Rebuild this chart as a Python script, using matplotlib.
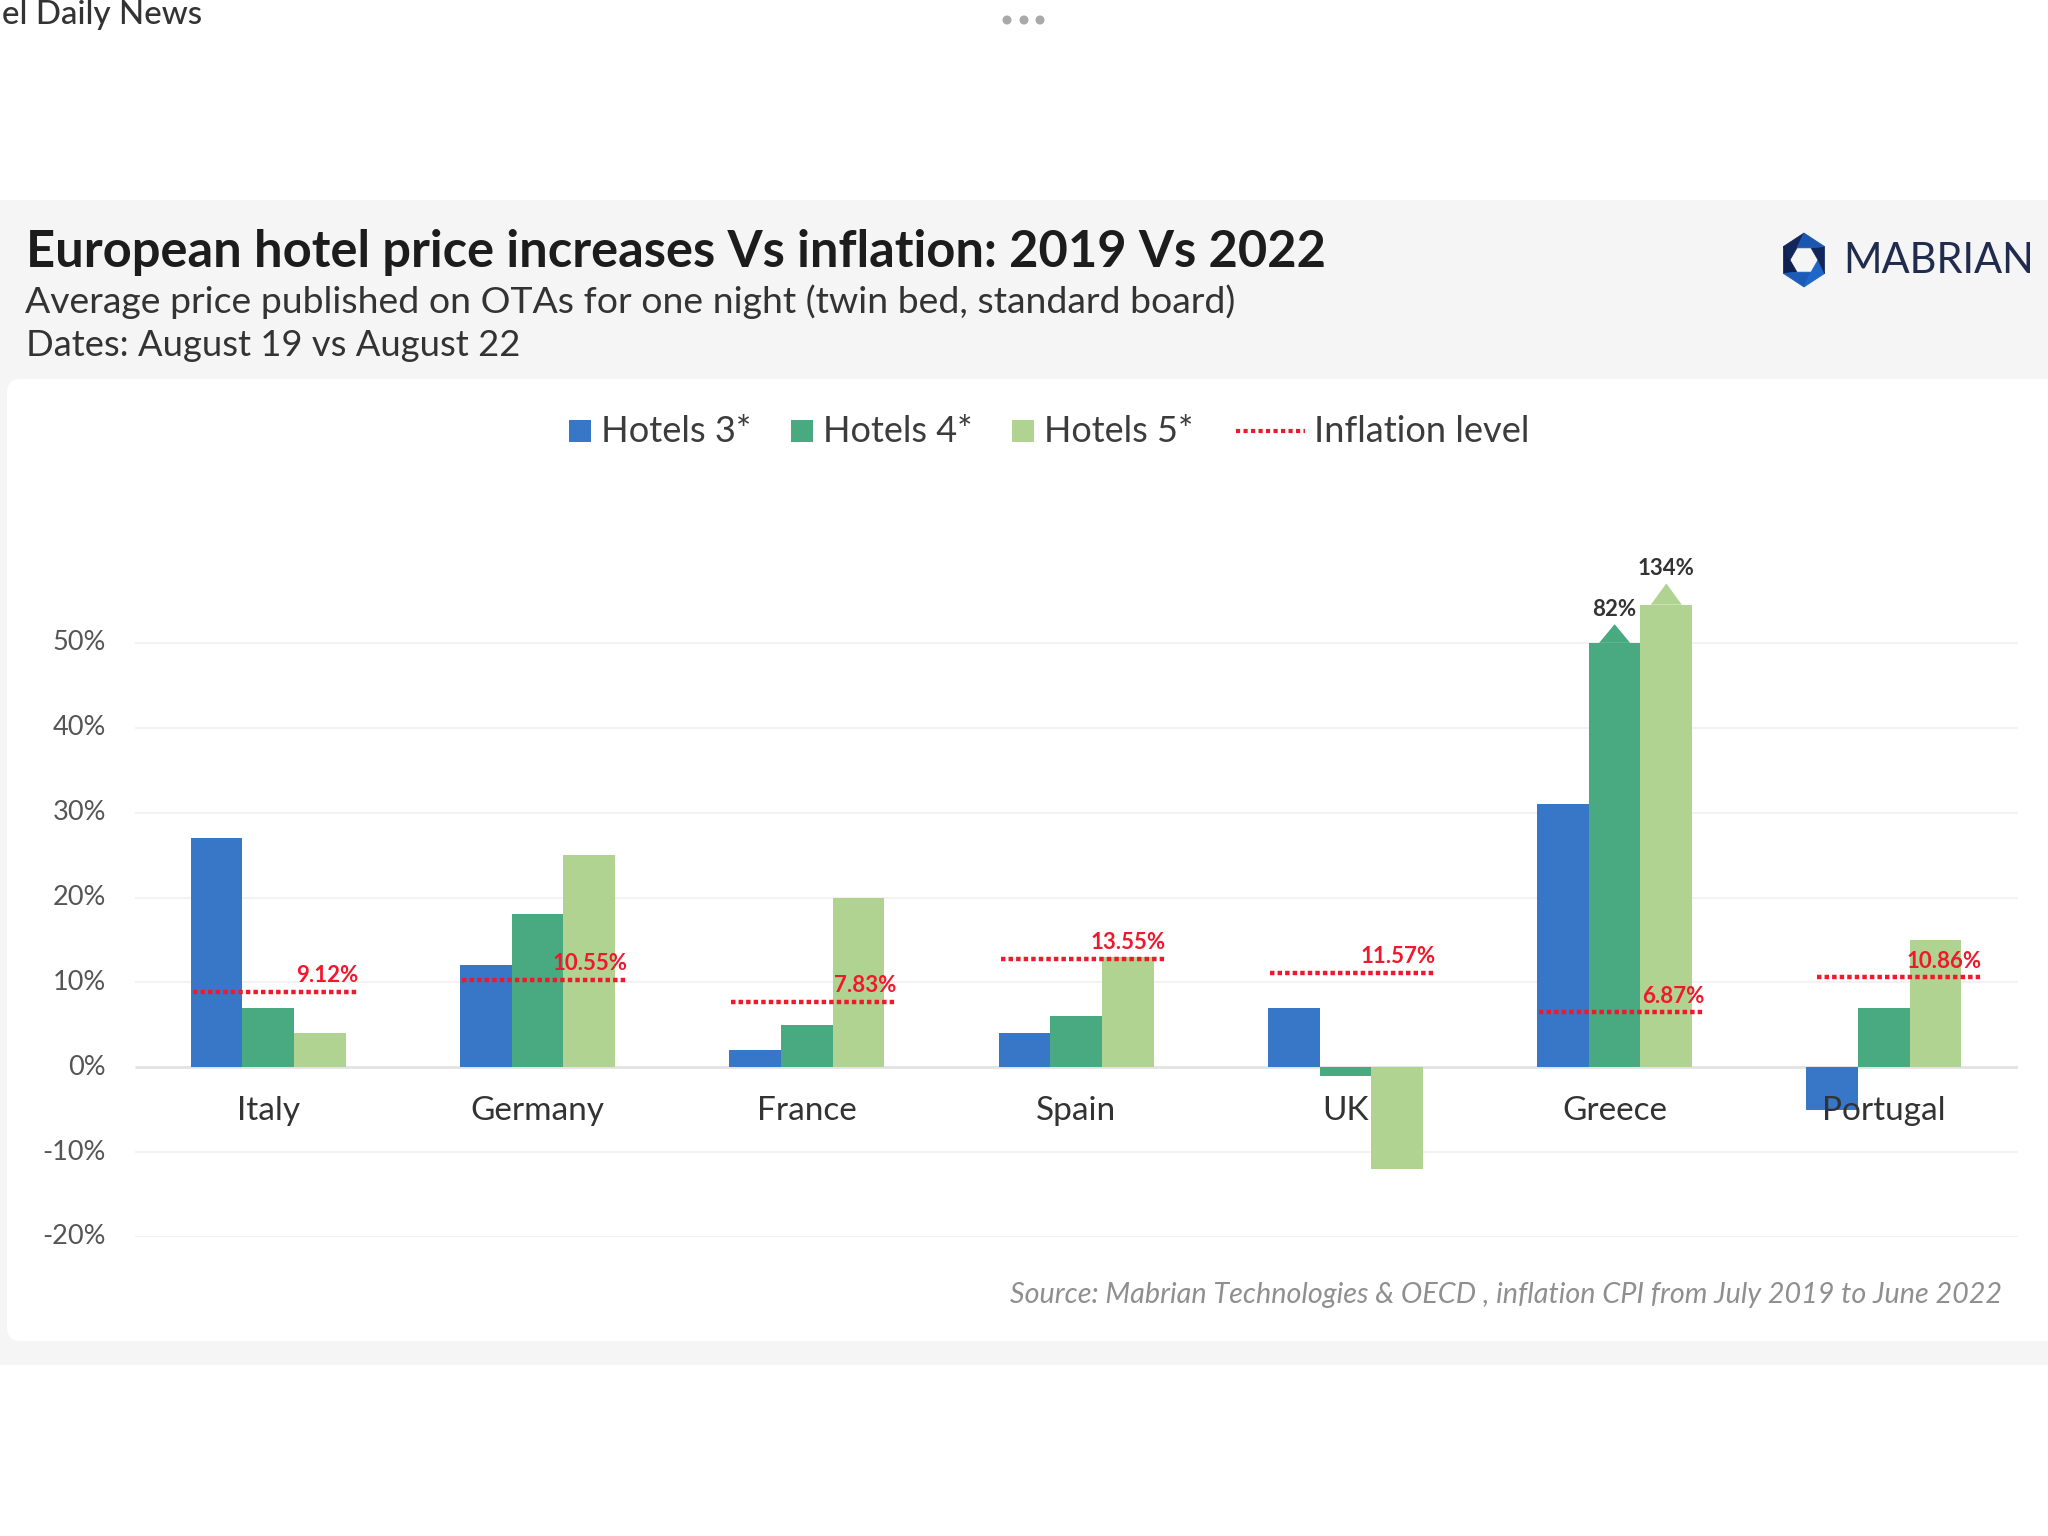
import numpy as np
import matplotlib
matplotlib.use("Agg")
import matplotlib.pyplot as plt
from matplotlib.patches import Rectangle, FancyBboxPatch, Polygon, Circle
from matplotlib.transforms import ScaledTranslation

# ---------- data ----------
countries = ["Italy", "Germany", "France", "Spain", "UK", "Greece", "Portugal"]
hotels3 = [27, 12, 2, 4, 7, 31, -5]
hotels4 = [7, 18, 5, 6, -1, 50, 7]
hotels5 = [4, 25, 20, 13, -12, 54.5, 15]
inflation_drawn = [8.9, 10.3, 7.7, 12.8, 11.1, 6.5, 10.6]
inflation_labels = ["9.12%", "10.55%", "7.83%", "13.55%", "11.57%", "6.87%", "10.86%"]
yticks = [-20, -10, 0, 10, 20, 30, 40, 50]
ytick_labels = ["-20%", "-10%", "0%", "10%", "20%", "30%", "40%", "50%"]
peak_tops = {"Hotels 4*": 52.2, "Hotels 5*": 57.0}
peak_labels = {"Hotels 4*": "82%", "Hotels 5*": "134%"}

C3, C4, C5, RED = "#3877c8", "#49a981", "#b0d392", "#f0182c"
FONT = "Lato"
plt.rcParams["font.family"] = [FONT, "DejaVu Sans"]

W, H = 2048, 1536
fig = plt.figure(figsize=(W / 100, H / 100), dpi=100, facecolor="white")
r = fig.canvas.get_renderer()

# ---------- page layer in pixel coordinates ----------
bg = fig.add_axes([0, 0, 1, 1], zorder=0)
bg.set_xlim(0, W)
bg.set_ylim(H, 0)
bg.axis("off")
bg.add_patch(Rectangle((0, 200), W, 1165, fc="#f5f5f5", ec="none"))
bg.add_patch(FancyBboxPatch((19, 391), W + 40, 938, boxstyle="round,pad=12,rounding_size=14",
                            fc="white", ec="none"))


def fitted(x, y, s, width, ha="left", **kw):
    t = bg.text(x, y, s, fontsize=20, ha=ha, va="center", **kw)
    t.set_fontsize(20 * width / t.get_window_extent(r).width)
    return t


fitted(2, 15, "el Daily News", 200, color="#333333", fontweight="medium")
for cx in (1007, 1024, 1040):
    bg.add_patch(Circle((cx, 20), 4.5, fc="#a9a9a9", ec="none"))

fitted(26, 253, "European hotel price increases Vs inflation: 2019 Vs 2022", 1300,
       color="#1c1c1c", fontweight="bold")
fitted(25, 302, "Average price published on OTAs for one night (twin bed, standard board)", 1214,
       color="#333333")
fitted(26, 345, "Dates: August 19 vs August 22", 495, color="#333333")

# logo
cx, cy, ro, ri = 1804, 260, 27, 14
ang = np.deg2rad(np.arange(90, 450, 60))
outer = np.c_[cx + ro * 0.88 * np.cos(ang), cy - ro * np.sin(ang)]
inner = np.c_[cx + ri * np.cos(ang + np.pi / 6), cy - ri * np.sin(ang + np.pi / 6)]
logo_cols = ["#12265c", "#0f1f4f", "#1c5cb8", "#1e66c8", "#12265c", "#1a58b0"]
for i in range(6):
    j = (i + 1) % 6
    bg.add_patch(Polygon([outer[i], outer[j], inner[j], inner[i]], closed=True,
                         fc=logo_cols[i], ec=logo_cols[i], lw=0.5))
fitted(1843, 261, "MABRIAN", 191, color="#202b4e")

# legend
for x0, col, label, tw in [(569, C3, "Hotels 3*", 150), (791, C4, "Hotels 4*", 150), (1012, C5, "Hotels 5*", 149)]:
    bg.add_patch(Rectangle((x0, 420), 22, 22, fc=col, ec="none"))
    fitted(x0 + 32, 431, label, tw, color="#3c3c3c")
bg.plot([1236, 1305], [431, 431], color=RED, lw=3, ls=(0, (1, 0.8)))
fitted(1314, 431, "Inflation level", 216, color="#3c3c3c")

fitted(2002, 1295, "Source: Mabrian Technologies & OECD , inflation CPI from July 2019 to June 2022", 993,
       ha="right", color="#8f8f8f", style="italic")

# ---------- chart ----------
left, right, top, bottom = 135, 2018, 558, 1237
ax = fig.add_axes([left / W, 1 - bottom / H, (right - left) / W, (bottom - top) / H], zorder=1)
ax.patch.set_alpha(0)
ax.set_xlim(-0.495, 6.498)
ax.set_ylim(-20, 60)
for s in ax.spines.values():
    s.set_visible(False)
ax.spines["bottom"].set_position(("data", 0))

for v in yticks:
    ax.hlines(v, -0.495, 6.498, color="#e2e2e2" if v == 0 else "#f2f2f2", lw=2 if v == 0 else 1.5, zorder=0.5)

x = np.arange(len(countries))
bw = 0.192
series = [("Hotels 3*", hotels3, C3, -bw), ("Hotels 4*", hotels4, C4, 0), ("Hotels 5*", hotels5, C5, bw)]
for name, vals, col, off in series:
    ax.bar(x + off, vals, width=bw, color=col, zorder=1)
    if name in peak_tops:
        i = countries.index("Greece")
        v = vals[i]
        x0 = x[i] + off - bw / 2
        pts = [(x0, v), (x0 + 0.2 * bw, v), (x0 + 0.5 * bw, peak_tops[name]), (x0 + 0.8 * bw, v), (x0 + bw, v)]
        ax.add_patch(Polygon(pts, closed=True, fc=col, ec="none", zorder=1))
        ax.annotate(peak_labels[name], (x0 + 0.5 * bw, peak_tops[name]), xytext=(0, 3),
                    textcoords="offset points", ha="center", va="bottom",
                    fontsize=16, fontweight="bold", color="#333333", zorder=4)

for i, (v, lab) in enumerate(zip(inflation_drawn, inflation_labels)):
    shift = 0.03 if countries[i] == "Portugal" else 0
    lo, hi = x[i] - 0.28 + shift, x[i] + 0.334 + shift
    ax.plot([lo, hi], [v, v], color=RED, lw=3.2, ls=(0, (1, 0.7)), zorder=3)
    ax.annotate(lab, (hi, v), xytext=(0, 4), textcoords="offset points", ha="right", va="bottom",
                fontsize=16, fontweight="bold", color=RED, zorder=4)

ax.set_xticks(x, countries)
ax.set_yticks(yticks, ytick_labels)
ax.tick_params(axis="x", length=0, pad=21, labelsize=24, labelcolor="#333333", zorder=5)
ax.tick_params(axis="y", length=0, pad=21, labelsize=19.5, labelcolor="#555555")
for lab in ax.get_yticklabels():
    lab.set_transform(lab.get_transform() + ScaledTranslation(0, 2.6 / 100, fig.dpi_scale_trans))

fig.savefig("out.png", dpi=100, facecolor="white")
